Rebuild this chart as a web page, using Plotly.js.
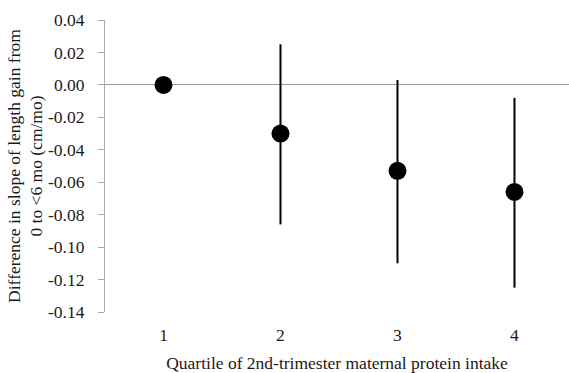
<!DOCTYPE html>
<html><head><meta charset="utf-8">
<script src="https://cdn.plot.ly/plotly-3.0.1.min.js"></script>
<style>html,body{margin:0;padding:0;background:#fff}</style>
</head><body>
<div id="chart" style="width:569px;height:373px"></div>
<script>
var quartiles = [1, 2, 3, 4];
var estimates = [0.000, -0.030, -0.053, -0.066];
var ciUpper = [0.000, 0.025, 0.003, -0.008];
var ciLower = [0.000, -0.086, -0.110, -0.125];
var yTickVals = [0.04, 0.02, 0.00, -0.02, -0.04, -0.06, -0.08, -0.10, -0.12, -0.14];
var yTickText = ["0.04", "0.02", "0.00", "-0.02", "-0.04", "-0.06", "-0.08", "-0.10", "-0.12", "-0.14"];
var xTickText = ["1", "2", "3", "4"];

var errPlus = estimates.map(function(v, i){ return ciUpper[i] - v; });
var errMinus = estimates.map(function(v, i){ return v - ciLower[i]; });

var trace = {
  x: quartiles, y: estimates, type: 'scatter', mode: 'markers',
  marker: {color: '#000', size: 18},
  error_y: {type: 'data', symmetric: false, array: errPlus, arrayminus: errMinus,
            color: '#000', thickness: 2, width: 0},
  showlegend: false, hoverinfo: 'none'
};

var font = {family: '"Liberation Serif", "Times New Roman", serif', size: 17.5, color: '#1a1a1a'};
var layout = {
  width: 569, height: 373,
  margin: {l: 105, r: 0, t: 20, b: 61},
  paper_bgcolor: '#fff', plot_bgcolor: '#fff',
  font: font,
  xaxis: {
    range: [0.5, 4.466], tickvals: quartiles, ticktext: xTickText,
    showgrid: false, zeroline: false, showline: false, ticks: '',
    tickfont: font, ticklabelstandoff: 10,
    title: {text: 'Quartile of 2nd-trimester maternal protein intake', font: font, standoff: 15}
  },
  yaxis: {
    range: [-0.14, 0.04], tickvals: yTickVals, ticktext: yTickText,
    showgrid: false, zeroline: true, zerolinecolor: '#999', zerolinewidth: 1,
    showline: true, linecolor: '#aaa', linewidth: 1,
    ticks: 'outside', ticklen: 6, tickcolor: '#aaa',
    tickfont: font, ticklabelstandoff: 10,
    title: {text: 'Difference in slope of length gain from<br>0 to <6 mo (cm/mo)', font: font, standoff: 0}
  }
};
Plotly.newPlot('chart', [trace], layout, {displayModeBar: false, staticPlot: true});
</script>
</body></html>
